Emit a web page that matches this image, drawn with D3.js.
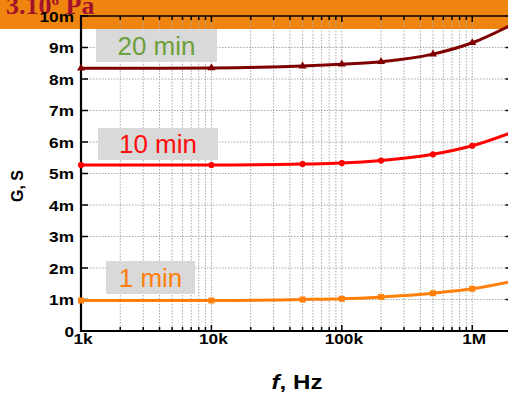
<!DOCTYPE html>
<html>
<head>
<meta charset="utf-8">
<script src="https://cdn.jsdelivr.net/npm/d3@7/dist/d3.min.js"></script>
<style>
  html, body { margin: 0; padding: 0; background: #fff; }
  svg { display: block; }
</style>
</head>
<body>
<svg id="chart" width="508" height="394"></svg>
<script>
// Frequency sweep (Hz) and conductance G (in mS) for three curing times
const frequencies = [1e3, 1e4, 5e4, 1e5, 2e5, 5e5, 1e6, 2e6];
const g1min  = [0.97, 0.97, 1.00, 1.02, 1.08, 1.20, 1.34, 1.57];
const g10min = [5.27, 5.27, 5.30, 5.33, 5.41, 5.61, 5.88, 6.30];
const g20min = [8.34, 8.35, 8.41, 8.47, 8.55, 8.79, 9.15, 9.72];
const seriesNames = ["1 min", "10 min", "20 min"];
const yTickValues = [0, 1, 2, 3, 4, 5, 6, 7, 8, 9, 10];
const yTickLabels = ["0", "1m", "2m", "3m", "4m", "5m", "6m", "7m", "8m", "9m", "10m"];
const xTickValues = [1e3, 1e4, 1e5, 1e6];
const xTickLabels = ["1k", "10k", "100k", "1M"];
const headerText = "3.10";
const headerExp = "6";
const headerUnit = " Pa";

const svg = d3.select("#chart");
const W = 508, H = 394;
const plot = { left: 81, right: 511.5, top: 16, bottom: 331 };

const x = d3.scaleLog().domain([1e3, 2e6]).range([plot.left, plot.right]);
const y = d3.scaleLinear().domain([0, 10]).range([plot.bottom, plot.top]);

// Orange header band
svg.append("rect").attr("x", 0).attr("y", 0).attr("width", W).attr("height", 29)
  .attr("fill", "#ef840e");

const header = svg.append("text")
  .attr("x", 6).attr("y", 14)
  .attr("font-family", "'Liberation Serif', 'Times New Roman', serif")
  .attr("font-weight", "bold").attr("font-size", 26)
  .attr("fill", "#a3122c");
header.append("tspan").text(headerText);
header.append("tspan").attr("font-size", 15).attr("dy", -9).text(headerExp);
header.append("tspan").attr("dy", 9).text(headerUnit);

// Minor log ticks for the grid
const minorX = [];
for (let d = 1e3; d < 2e6; d *= 10) {
  for (let k = 1; k <= 9; k++) { const v = d * k; if (v <= 2e6) minorX.push(v); }
}

const grid = svg.append("g");
grid.selectAll("line.vx").data(minorX.filter(v => v > 1e3)).join("line")
  .attr("x1", d => x(d)).attr("x2", d => x(d))
  .attr("y1", plot.top).attr("y2", plot.bottom)
  .attr("stroke", "#a8a8a8").attr("stroke-width", 1)
  .attr("stroke-dasharray", "1.5,1.5");
grid.selectAll("line.hy").data(yTickValues.filter(v => v > 0 && v < 10)).join("line")
  .attr("x1", plot.left).attr("x2", plot.right)
  .attr("y1", d => y(d)).attr("y2", d => y(d))
  .attr("stroke", "#a8a8a8").attr("stroke-width", 1)
  .attr("stroke-dasharray", "1.5,1.5");

// Label boxes
const labelLayout = [
  { name: "20 min", color: "#6ea03a", box: [96, 29, 121, 33] },
  { name: "10 min", color: "#ff0d0d", box: [98, 128, 120, 32] },
  { name: "1 min",  color: "#ff7f0e", box: [106, 261, 89, 33] }
];
labelLayout.forEach(l => {
  const [bx, by, bw, bh] = l.box;
  svg.append("rect").attr("x", bx).attr("y", by).attr("width", bw).attr("height", bh)
    .attr("fill", "#d9d9d9");
  svg.append("text").attr("x", bx + bw / 2).attr("y", by + bh / 2 + 9)
    .attr("text-anchor", "middle")
    .attr("font-family", "'Liberation Sans', Arial, sans-serif")
    .attr("font-size", 26).attr("fill", l.color).text(l.name);
});

// Axes frame
const frame = svg.append("g");
frame.append("line").attr("x1", plot.left).attr("x2", plot.right)
  .attr("y1", plot.top).attr("y2", plot.top).attr("stroke", "#000").attr("stroke-width", 1.5);
frame.append("line").attr("x1", plot.right).attr("x2", plot.right)
  .attr("y1", plot.top).attr("y2", plot.bottom).attr("stroke", "#000").attr("stroke-width", 1.5);

// Bottom and top ticks (inward)
const isMajor = v => xTickValues.some(t => Math.abs(t - v) < 1e-6 * t);
svg.append("g").selectAll("line").data(minorX).join("line")
  .attr("x1", d => x(d)).attr("x2", d => x(d))
  .attr("y1", plot.bottom).attr("y2", d => plot.bottom - (isMajor(d) ? 6 : 4))
  .attr("stroke", "#000").attr("stroke-width", 1.5);
svg.append("g").selectAll("line").data(minorX).join("line")
  .attr("x1", d => x(d)).attr("x2", d => x(d))
  .attr("y1", plot.top).attr("y2", d => plot.top + (isMajor(d) ? 6 : 4))
  .attr("stroke", "#000").attr("stroke-width", 1.5);
// Left and right ticks (inward)
svg.append("g").selectAll("line").data(yTickValues).join("line")
  .attr("x1", plot.left).attr("x2", plot.left + 7)
  .attr("y1", d => y(d)).attr("y2", d => y(d))
  .attr("stroke", "#000").attr("stroke-width", 1.5);
svg.append("g").selectAll("line").data(yTickValues).join("line")
  .attr("x1", plot.right).attr("x2", plot.right - 6)
  .attr("y1", d => y(d)).attr("y2", d => y(d))
  .attr("stroke", "#000").attr("stroke-width", 1.5);

frame.append("line").attr("x1", plot.left).attr("x2", plot.left)
  .attr("y1", plot.top - 1).attr("y2", plot.bottom + 1).attr("stroke", "#000").attr("stroke-width", 2.2);
frame.append("line").attr("x1", plot.left - 1).attr("x2", plot.right)
  .attr("y1", plot.bottom).attr("y2", plot.bottom).attr("stroke", "#000").attr("stroke-width", 2.2);

// Tick labels
const tickFont = "'Liberation Sans', Arial, sans-serif";
svg.append("g").selectAll("text").data(yTickValues).join("text")
  .attr("transform", d => `translate(74,${y(d) + 5.5}) scale(1.15,1)`)
  .attr("text-anchor", "end")
  .attr("font-family", tickFont).attr("font-weight", "bold").attr("font-size", 15)
  .attr("fill", "#000")
  .text((d, i) => yTickLabels[i]);
svg.append("g").selectAll("text").data(xTickValues).join("text")
  .attr("transform", d => `translate(${x(d) + 2},343.5) scale(1.15,1)`)
  .attr("text-anchor", "middle")
  .attr("font-family", tickFont).attr("font-weight", "bold").attr("font-size", 15)
  .attr("fill", "#000")
  .text((d, i) => xTickLabels[i]);

// Axis titles
const xt = svg.append("text")
  .attr("transform", "translate(297,389) scale(1.15,1)")
  .attr("text-anchor", "middle")
  .attr("font-family", tickFont).attr("font-weight", "bold").attr("font-size", 21)
  .attr("fill", "#000");
xt.append("tspan").attr("font-style", "italic").text("f");
xt.append("tspan").text(", Hz");

svg.append("text")
  .attr("transform", "translate(23,186) rotate(-90)")
  .attr("text-anchor", "middle")
  .attr("font-family", tickFont).attr("font-weight", "bold").attr("font-size", 16)
  .attr("fill", "#000").text("G, S");

// Series
const series = [
  { name: seriesNames[2], values: g20min, color: "#800000", marker: d3.symbolTriangle, size: 28 },
  { name: seriesNames[1], values: g10min, color: "#ff0000", marker: d3.symbolCircle, size: 30 },
  { name: seriesNames[0], values: g1min,  color: "#ff800a", marker: d3.symbolSquare, size: 36 }
];
const clip = svg.append("defs").append("clipPath").attr("id", "plotclip");
clip.append("rect").attr("x", plot.left - 6).attr("y", plot.top).attr("width", plot.right - plot.left + 6)
  .attr("height", plot.bottom - plot.top);

const line = d3.line().x(d => x(d.f)).y(d => y(d.v)).curve(d3.curveMonotoneX);
series.forEach(s => {
  const pts = frequencies.map((f, i) => ({ f, v: s.values[i] }));
  const g = svg.append("g").attr("clip-path", "url(#plotclip)");
  g.append("path").datum(pts).attr("d", line)
    .attr("fill", "none").attr("stroke", s.color).attr("stroke-width", 3);
  g.selectAll("path.m").data(pts).join("path")
    .attr("transform", d => `translate(${x(d.f)},${y(d.v)})`)
    .attr("d", d3.symbol().type(s.marker).size(s.size))
    .attr("fill", s.color);
});

// Top-left "10m" label sits over the header band
</script>
</body>
</html>
